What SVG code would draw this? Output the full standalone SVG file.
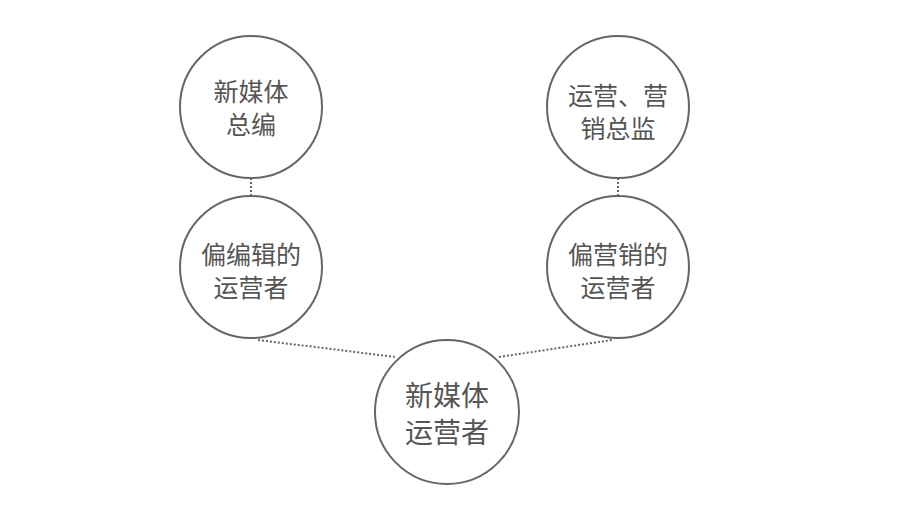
<svg xmlns="http://www.w3.org/2000/svg" width="900" height="506" viewBox="0 0 900 506">
<style>
.n{fill:#fff;stroke:#666;stroke-width:2}
.t{font-family:"Noto Sans CJK SC",sans-serif;font-size:25px;fill:#555;text-anchor:middle}
.b{font-size:28px}
.c{stroke:#666;stroke-width:2;stroke-dasharray:2 2;fill:none}
</style>
<rect width="900" height="506" fill="#fff"/>
<g id="connectors">
<line class="c" x1="251" y1="178" x2="251" y2="195"/>
<line class="c" x1="618" y1="178" x2="618" y2="195"/>
<line class="c" x1="258" y1="340" x2="396" y2="357"/>
<line class="c" x1="499" y1="357" x2="612" y2="340"/>
</g>
<g id="n1"><circle class="n" cx="251" cy="107" r="71"/><text class="t" x="251" y="101">新媒体</text><text class="t" x="251" y="134">总编</text></g>
<g id="n2"><circle class="n" cx="618" cy="107" r="71"/><text class="t" x="618" y="105">运营、营</text><text class="t" x="618" y="138">销总监</text></g>
<g id="n3"><circle class="n" cx="251" cy="267" r="71"/><text class="t" x="251" y="264">偏编辑的</text><text class="t" x="251" y="297">运营者</text></g>
<g id="n4"><circle class="n" cx="618" cy="267" r="71"/><text class="t" x="618" y="264">偏营销的</text><text class="t" x="618" y="297">运营者</text></g>
<g id="n5"><circle class="n" cx="447" cy="412" r="72"/><text class="t b" x="447" y="406">新媒体</text><text class="t b" x="447" y="443">运营者</text></g>
</svg>
